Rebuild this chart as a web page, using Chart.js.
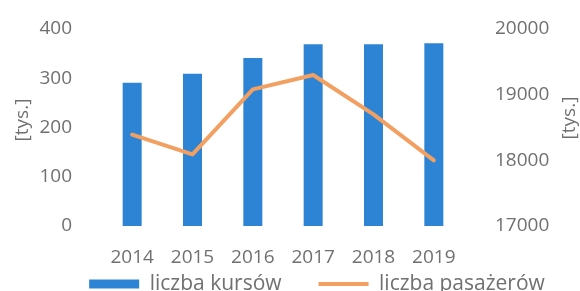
<!DOCTYPE html>
<html>
<head>
<meta charset="utf-8">
<script src="https://cdn.jsdelivr.net/npm/chart.js@4"></script>
<style>
html,body{margin:0;padding:0;background:#fff;}
#wrap{width:580px;height:291px;position:relative;}
</style>
</head>
<body>
<div id="wrap"><canvas id="c" width="580" height="291"></canvas></div>
<script>
const years = ['2014','2015','2016','2017','2018','2019'];
const kursy = [291, 309, 341, 369, 369, 371];
const pasazerowie = [18390, 18090, 19080, 19300, 18700, 18000];
const leftTicks = [0, 100, 200, 300, 400];
const rightTicks = [17000, 18000, 19000, 20000];
const seriesNames = ['liczba kursów', 'liczba pasażerów'];
const unitLabel = '[tys.]';

const TEXT = '#707070';
const FONT = 'Open Sans';
const BLUE = '#2E84D4';
const ORANGE = '#F2A062';
const LEG_PAD = 37;
const LEG_FONT = 21;
const LEG_CENTER_Y = 284;
const LEG_DX = 27;

const titlePlugin = {
  id: 'axisTitles',
  afterLayout(chart) {
    const lg = chart.legend;
    const h = LEG_PAD * 2 + LEG_FONT + 10;
    lg.top = LEG_CENTER_Y - LEG_PAD - LEG_FONT / 2;
    lg.bottom = lg.top + h;
    lg.height = h;
    lg.left += LEG_DX;
    lg.right += LEG_DX;
  },
  afterDraw(chart) {
    const ctx = chart.ctx;
    ctx.save();
    ctx.fillStyle = TEXT;
    ctx.font = '19px "' + FONT + '"';
    ctx.textAlign = 'center';
    ctx.textBaseline = 'middle';
    [[23, 120], [570, 118]].forEach(([x, y]) => {
      ctx.save();
      ctx.translate(x, y);
      ctx.rotate(-Math.PI / 2);
      ctx.fillText(unitLabel, 0, 0);
      ctx.restore();
    });
    ctx.restore();
  }
};

function fixY(width) {
  return function (s) { s.width = width; s.paddingTop = 0; s.paddingBottom = 0; };
}

new Chart(document.getElementById('c'), {
  data: {
    labels: years,
    datasets: [
      {
        type: 'line',
        label: seriesNames[1],
        data: pasazerowie,
        yAxisID: 'yR',
        borderColor: ORANGE,
        backgroundColor: ORANGE,
        borderWidth: 4,
        pointRadius: 0,
        pointHoverRadius: 0,
        borderJoinStyle: 'round',
        borderCapStyle: 'round',
        tension: 0,
        order: 0
      },
      {
        type: 'bar',
        label: seriesNames[0],
        data: kursy,
        yAxisID: 'yL',
        backgroundColor: BLUE,
        borderWidth: 0,
        categoryPercentage: 1,
        barPercentage: 0.315,
        order: 1
      }
    ]
  },
  options: {
    responsive: false,
    animation: false,
    layout: { padding: { top: 29, left: 0, right: 0, bottom: 0 } },
    plugins: {
      tooltip: { enabled: false },
      legend: {
        position: 'bottom',
        reverse: true,
        maxHeight: 20,
        labels: {
          usePointStyle: true,
          pointStyleWidth: 50,
          boxHeight: 9,
          padding: LEG_PAD,
          color: TEXT,
          font: { family: FONT, size: LEG_FONT },
          generateLabels(chart) {
            const items = Chart.defaults.plugins.legend.labels.generateLabels(chart);
            items.forEach(it => {
              const ds = chart.data.datasets[it.datasetIndex];
              if (ds.type === 'line') {
                it.pointStyle = 'line';
                it.strokeStyle = ORANGE;
                it.lineWidth = 4;
              } else {
                it.pointStyle = 'rect';
                it.fillStyle = BLUE;
                it.strokeStyle = BLUE;
                it.lineWidth = 0;
              }
            });
            return items;
          }
        }
      }
    },
    scales: {
      x: {
        grid: { display: false },
        border: { display: false },
        afterFit(s) { s.height = 45; },
        ticks: { color: TEXT, font: { family: FONT, size: 19 }, padding: 12 }
      },
      yL: {
        position: 'left',
        min: 0, max: 400,
        grid: { display: false },
        border: { display: false },
        afterBuildTicks(s) { s.ticks = leftTicks.map(v => ({ value: v })); },
        afterFit: fixY(102),
        ticks: { color: TEXT, font: { family: FONT, size: 19 }, padding: 22 }
      },
      yR: {
        position: 'right',
        min: 17000, max: 20000,
        grid: { display: false },
        border: { display: false },
        afterBuildTicks(s) { s.ticks = rightTicks.map(v => ({ value: v })); },
        afterFit: fixY(116),
        ticks: { color: TEXT, font: { family: FONT, size: 19 }, padding: 23, callback: v => String(v) }
      }
    }
  },
  plugins: [titlePlugin]
});
</script>
</body>
</html>
